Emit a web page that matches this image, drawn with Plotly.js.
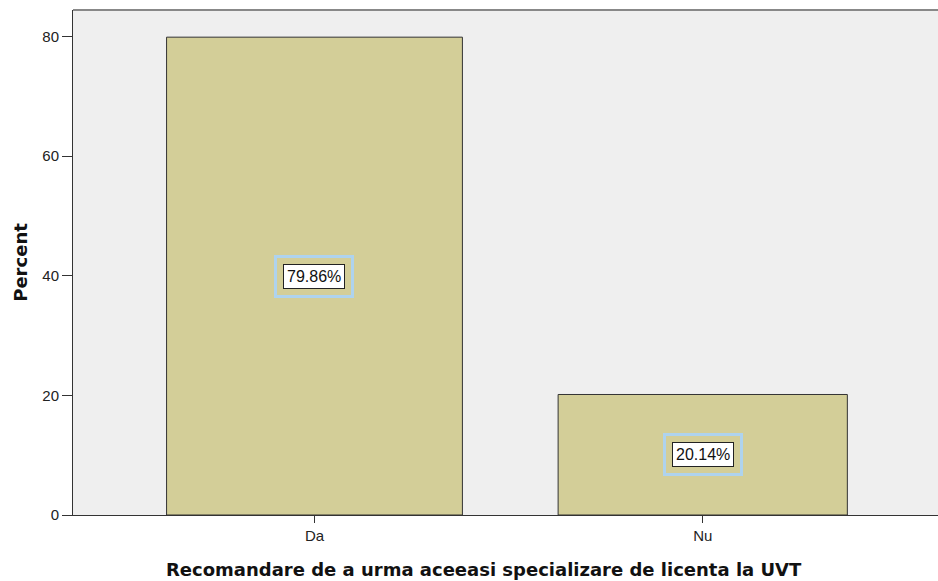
<!DOCTYPE html>
<html>
<head>
<meta charset="utf-8">
<script src="https://cdn.plot.ly/plotly-3.0.1.min.js"></script>
<style>
  body { margin: 0; background: #ffffff; }
  #graphique { width: 938px; height: 581px; }
</style>
</head>
<body>
<div id="graphique"></div>
<script>
// Données
let categories = ["Da", "Nu"];
let pourcentages = [79.86, 20.14];
let etiquettes = ["79.86%", "20.14%"];
let graduations_y = [0, 20, 40, 60, 80];
let titre_x = "Recomandare de a urma aceeasi specializare de licenta la UVT";

let police = "Liberation Sans, Arial, sans-serif";
let police_titre = "DejaVu Sans, Verdana, sans-serif";

let donnee = [{
    x: categories,
    y: pourcentages,
    type: "bar",
    width: [0.762, 0.745],
    marker: {color: "#d3ce98", line: {color: "#333333", width: 1}},
    hoverinfo: "none"
}];

// Étiquettes au milieu des barres : un cadre bleu clair sous un cadre noir
let annotations = [];
for (let i = 0; i < categories.length; i = i + 1) {
    annotations.push({
        x: categories[i], y: pourcentages[i] / 2,
        xref: "x", yref: "y",
        text: etiquettes[i], showarrow: false,
        font: {family: police, size: 16, color: "rgba(0,0,0,0)"},
        bordercolor: "#aed3ee", borderwidth: 3, borderpad: 10,
        bgcolor: "rgba(0,0,0,0)"
    });
    annotations.push({
        x: categories[i], y: pourcentages[i] / 2,
        xref: "x", yref: "y",
        text: etiquettes[i], showarrow: false,
        font: {family: police, size: 16, color: "#111111"},
        bordercolor: "#222222", borderwidth: 1, borderpad: 3,
        bgcolor: "#ffffff"
    });
}

// Le titre de l'axe x n'est pas centré sur la zone du graphique dans l'original
annotations.push({
    x: 0.475, y: 0, xref: "paper", yref: "paper",
    xanchor: "center", yanchor: "middle", yshift: -54,
    text: titre_x, showarrow: false,
    font: {size: 18, color: "#111111", family: police_titre, weight: "bold"}
});

let apparence = {
    width: 938,
    height: 581,
    margin: {l: 73, r: 0, t: 10, b: 66},
    paper_bgcolor: "#ffffff",
    plot_bgcolor: "#efefef",
    showlegend: false,
    font: {family: police, size: 15, color: "#222222"},
    xaxis: {
        range: [-0.622, 1.606],
        showline: true, linecolor: "#333333", linewidth: 1,
        ticks: "outside", ticklen: 7, tickcolor: "#333333",
        tickfont: {size: 15, family: police, color: "#222222"},
        showgrid: false, zeroline: false
    },
    yaxis: {
        title: {text: "Percent",
                font: {size: 18, color: "#111111", family: police_titre, weight: "bold"},
                standoff: 10},
        range: [0, 84.4],
        tickvals: graduations_y,
        showline: true, linecolor: "#333333", linewidth: 1,
        ticks: "outside", ticklen: 10, tickcolor: "#333333",
        tickfont: {size: 15, family: police, color: "#222222"},
        showgrid: false, zeroline: false
    },
    shapes: [{
        type: "line", xref: "paper", yref: "paper",
        x0: 0, x1: 1, y0: 1, y1: 1,
        line: {color: "#888888", width: 2}
    }],
    annotations: annotations
};

Plotly.newPlot("graphique", donnee, apparence, {displayModeBar: false, staticPlot: true});
</script>
</body>
</html>
